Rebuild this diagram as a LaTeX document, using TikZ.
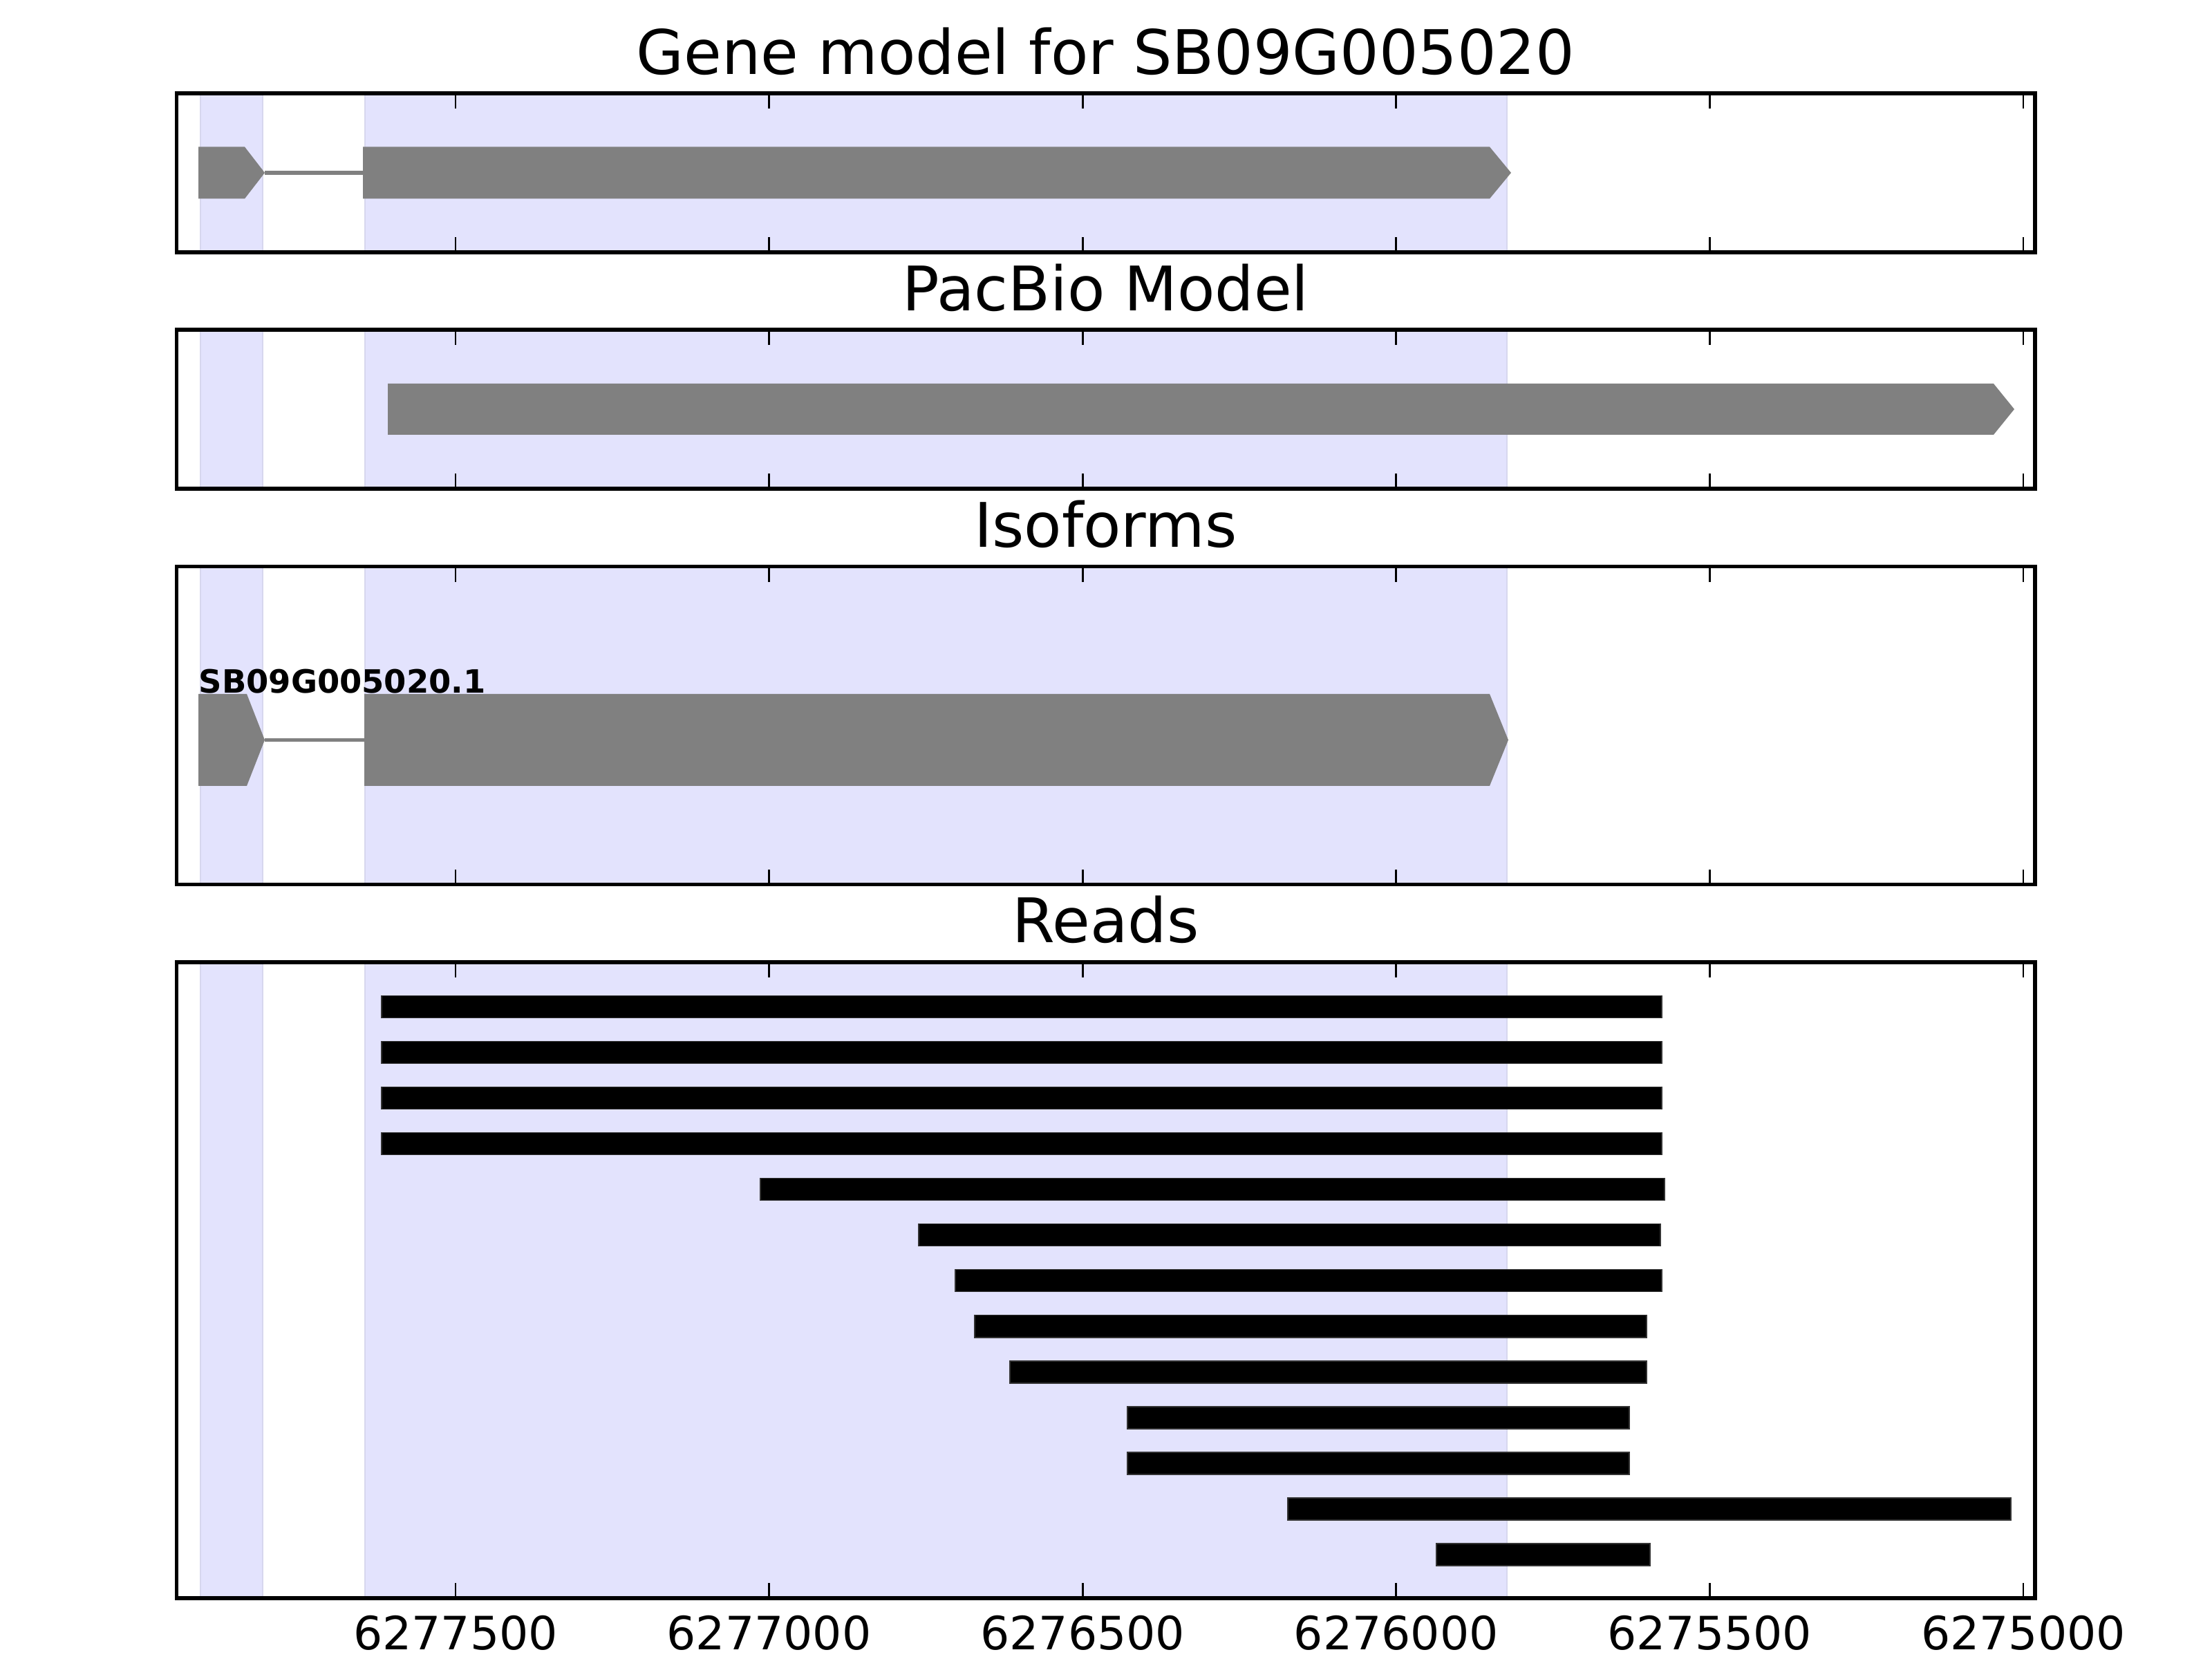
\documentclass[tikz,border=0pt]{standalone}
\usepackage{fontspec}
\setmainfont{DejaVu Sans}
\usepackage{tikz}
\definecolor{exongray}{HTML}{808080}
\definecolor{spanblue}{HTML}{E3E3FD}
\definecolor{spanedge}{HTML}{D7D7EE}

\begin{document}
\begin{tikzpicture}[x=1cm,y=1cm,
  frame/.style={draw=black,line width=1.6pt},
  tickmark/.style={black,line width=0.8pt},
  exon/.style={fill=exongray},
  intron/.style={exongray,line width=1.5pt},
  readbar/.style={fill=black,draw=black!80,line width=0.3pt},
  span/.style={fill=spanblue,draw=spanedge,line width=0.8pt},
  paneltitle/.style={anchor=base,inner sep=0pt,font=\fontsize{25.3}{30}\selectfont},
  ticklabel/.style={anchor=base,inner sep=0pt,font=\fontsize{18.9}{22}\selectfont}]
  \useasboundingbox (0,0) rectangle (32,24);
  % shaded exon spans, same in every panel
  \foreach \ytop/\ybot in {22.65/20.35,19.227/16.927,15.803/11.203,10.08/0.88} {
    \filldraw[span] (2.90,\ybot) rectangle (3.80,\ytop);
    \filldraw[span] (5.28,\ybot) rectangle (21.80,\ytop);
  }
  % gene model
  \fill[exon] (2.87,21.875) -- (3.54,21.875) -- (3.83,21.50) -- (3.54,21.125) -- (2.87,21.125) -- cycle;
  \draw[intron] (3.83,21.50) -- (5.25,21.50);
  \fill[exon] (5.25,21.875) -- (21.55,21.875) -- (21.86,21.50) -- (21.55,21.125) -- (5.25,21.125) -- cycle;
  % pacbio model
  \fill[exon] (5.61,18.45) -- (28.84,18.45) -- (29.14,18.08) -- (28.84,17.71) -- (5.61,17.71) -- cycle;
  % isoforms
  \fill[exon] (2.87,13.96) -- (3.57,13.96) -- (3.83,13.295) -- (3.57,12.63) -- (2.87,12.63) -- cycle;
  \draw[intron] (3.83,13.295) -- (5.27,13.295);
  \fill[exon] (5.27,13.96) -- (21.55,13.96) -- (21.82,13.295) -- (21.55,12.63) -- (5.27,12.63) -- cycle;
  \node[anchor=base west,inner sep=0pt,font=\bfseries\fontsize{13.2}{16}\selectfont] (isoname) at (2.87,13.97) {SB09G005020.1};
  % reads
  \foreach \xa/\xb [count=\i] in {5.52/24.04,5.52/24.04,5.52/24.04,5.52/24.04,11.00/24.08,13.29/24.02,
      13.82/24.04,14.10/23.82,14.61/23.82,16.31/23.57,16.31/23.57,18.63/29.09,20.78/23.87}
    \filldraw[readbar] (\xa,{9.43-0.66*(\i-1)-0.16}) rectangle (\xb,{9.43-0.66*(\i-1)+0.16});
  % frames and ticks
  \foreach \ytop/\ybot in {22.65/20.35,19.227/16.927,15.803/11.203,10.08/0.88} {
    \foreach \tx in {6.59,11.126,15.662,20.198,24.734,29.27} {
      \draw[tickmark] (\tx,\ybot) -- ++(0,0.22);
      \draw[tickmark] (\tx,\ytop) -- ++(0,-0.22);
    }
    \draw[frame] (2.555,\ybot) rectangle (29.44,\ytop);
  }
  % titles
  \node[paneltitle] (genetitle) at (15.995,22.92) {Gene model for SB09G005020};
  \node[paneltitle] (pacbiotitle) at (15.995,19.50) {PacBio Model};
  \node[paneltitle] (isotitle) at (15.995,16.08) {Isoforms};
  \node[paneltitle] (readstitle) at (15.995,10.36) {Reads};
  % axis labels
  \foreach \tx/\lab in {6.59/6277500,11.126/6277000,15.662/6276500,20.198/6276000,24.734/6275500,29.27/6275000}
    \node[ticklabel] (pos\lab) at (\tx,0.13) {\lab};
\end{tikzpicture}
\end{document}
